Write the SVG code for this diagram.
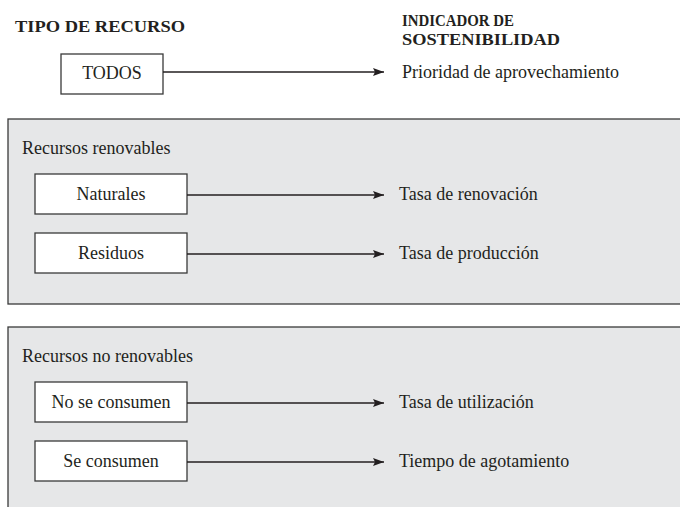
<svg xmlns="http://www.w3.org/2000/svg" width="680" height="507" viewBox="0 0 680 507">
<defs>
<style>
text{font-family:"Liberation Serif","Times New Roman",serif;fill:#231f20;}
.h{font-weight:bold;font-size:17px;}
.t{font-size:18px;}
.c{text-anchor:middle;}
.box{fill:#ffffff;stroke:#3a3a3a;stroke-width:1.3;}
.panel{fill:#e6e7e8;stroke:#3a3a3a;stroke-width:1.3;}
.arr{stroke:#231f20;stroke-width:1.6;fill:none;marker-end:url(#ah);}
</style>
<marker id="ah" markerUnits="userSpaceOnUse" markerWidth="14" markerHeight="10" refX="11" refY="4" orient="auto">
<path d="M0,0 L11,4 L0,8 L2,4 Z" fill="#231f20"/>
</marker>
</defs>
<rect width="680" height="507" fill="#ffffff"/>
<g id="headers">
<text class="h" x="15" y="32" textLength="170" lengthAdjust="spacingAndGlyphs">TIPO DE RECURSO</text>
<text class="h" x="402" y="25.5" textLength="112" lengthAdjust="spacingAndGlyphs">INDICADOR DE</text>
<text class="h" x="402" y="44.5" textLength="158" lengthAdjust="spacingAndGlyphs">SOSTENIBILIDAD</text>
</g>
<g id="panel-renovables">
<rect class="panel" x="8" y="119" width="690" height="185"/>
<text class="t" x="22" y="154">Recursos renovables</text>
</g>
<g id="panel-no-renovables">
<rect class="panel" x="8" y="327" width="690" height="200"/>
<text class="t" x="22" y="362">Recursos no renovables</text>
</g>
<g id="node-todos">
<rect class="box" x="61" y="54" width="102" height="40"/>
<text class="t c" x="112" y="79">TODOS</text>
</g>
<g id="node-prioridad"><text class="t" x="402" y="78">Prioridad de aprovechamiento</text></g>
<g id="node-naturales">
<rect class="box" x="35" y="174" width="152" height="40"/>
<text class="t c" x="111" y="200">Naturales</text>
</g>
<g id="node-renovacion"><text class="t" x="399" y="200">Tasa de renovación</text></g>
<g id="node-residuos">
<rect class="box" x="35" y="233" width="152" height="40"/>
<text class="t c" x="111" y="259">Residuos</text>
</g>
<g id="node-produccion"><text class="t" x="399" y="259">Tasa de producción</text></g>
<g id="node-no-consumen">
<rect class="box" x="35" y="382" width="152" height="40"/>
<text class="t c" x="111" y="408">No se consumen</text>
</g>
<g id="node-utilizacion"><text class="t" x="399" y="408">Tasa de utilización</text></g>
<g id="node-se-consumen">
<rect class="box" x="35" y="441" width="152" height="40"/>
<text class="t c" x="111" y="467">Se consumen</text>
</g>
<g id="node-agotamiento"><text class="t" x="399" y="467">Tiempo de agotamiento</text></g>
<g id="connectors">
<line class="arr" x1="163" y1="72" x2="384" y2="72"/>
<line class="arr" x1="187" y1="195" x2="384" y2="195"/>
<line class="arr" x1="187" y1="254" x2="384" y2="254"/>
<line class="arr" x1="187" y1="403" x2="384" y2="403"/>
<line class="arr" x1="187" y1="462" x2="384" y2="462"/>
</g>
</svg>
